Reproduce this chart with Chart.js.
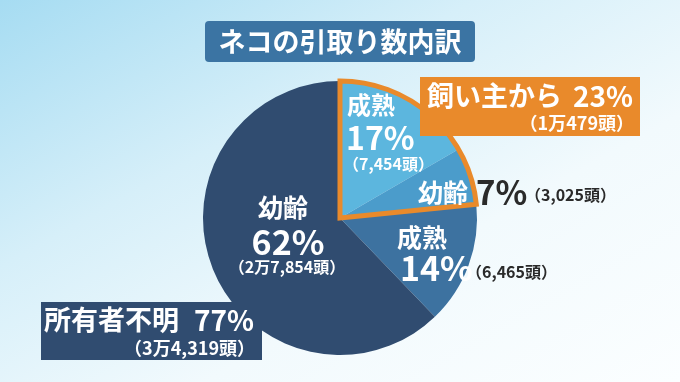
<!DOCTYPE html>
<html lang="ja">
<head>
    <meta charset="UTF-8">
    <title>ネコの引取り数内訳</title>
    <script src="https://cdn.jsdelivr.net/npm/chart.js@4.4.0/dist/chart.umd.min.js"></script>
    <style>
        html, body { margin: 0; padding: 0; }
        body {
            width: 680px; height: 382px; overflow: hidden;
            background: linear-gradient(to bottom right, #a6dcf2 0%, #d6eff9 35%, #f2fafd 65%, #fbfeff 100%);
        }
        canvas { display: block; }
    </style>
</head>
<body>
    <canvas id="myChart" width="680" height="382"></canvas>

    <script>
        // data
        const title = 'ネコの引取り数内訳';
        const categories = ['成熟', '幼齢', '成熟', '幼齢'];
        const counts = [7454, 3025, 6465, 27854];
        const percents = [17, 7, 14, 62];
        const countLabels = ['（7,454頭）', '（3,025頭）', '（6,465頭）', '（2万7,854頭）'];
        const groupNames = ['飼い主から', '所有者不明'];
        const groupPercents = [23, 77];
        const groupCountLabels = ['（1万479頭）', '（3万4,319頭）'];

        const sliceColors = ['#5cb6de', '#4b9ccb', '#3d72a0', '#304c70'];
        const orange = '#e98a2b';
        const navy = '#304c70';
        const FONT = '"Noto Sans CJK JP", "Noto Sans", sans-serif';

        function txt(ctx, s, x, y, size, color, align) {
            ctx.font = 'bold ' + size + 'px ' + FONT;
            ctx.fillStyle = color;
            ctx.textAlign = align || 'left';
            ctx.textBaseline = 'middle';
            ctx.fillText(s, x, y);
        }

        function roundRect(ctx, x, y, w, h, r, color) {
            ctx.beginPath();
            ctx.roundRect(x, y, w, h, r);
            ctx.fillStyle = color;
            ctx.fill();
        }

        // orange outline around the "飼い主から" slices, boxes and labels
        const labelPlugin = {
            id: 'labels',
            afterDatasetsDraw(chart) {
                const ctx = chart.ctx;
                const arcs = chart.getDatasetMeta(0).data;
                const cx = arcs[0].x, cy = arcs[0].y, r = arcs[0].outerRadius;

                ctx.save();
                ctx.beginPath();
                ctx.moveTo(cx, cy);
                ctx.arc(cx, cy, r, arcs[0].startAngle, arcs[1].endAngle);
                ctx.closePath();
                ctx.lineWidth = 5;
                ctx.lineJoin = 'miter';
                ctx.strokeStyle = orange;
                ctx.stroke();

                // title
                roundRect(ctx, 205, 21, 270, 41, 4, '#3b74a3');
                txt(ctx, title, 340, 42, 27, '#fff', 'center');

                // group boxes
                ctx.fillStyle = orange;
                ctx.fillRect(420, 77, 220, 59);
                txt(ctx, groupNames[0], 427, 96, 27, '#fff');
                txt(ctx, groupPercents[0] + '%', 633, 96, 28, '#fff', 'right');
                txt(ctx, groupCountLabels[0], 634, 123, 18, '#fff', 'right');

                ctx.fillStyle = navy;
                ctx.fillRect(41, 302, 221, 58);
                txt(ctx, groupNames[1], 44, 320, 27, '#fff');
                txt(ctx, groupPercents[1] + '%', 254, 320, 28, '#fff', 'right');
                txt(ctx, groupCountLabels[1], 255, 348, 18, '#fff', 'right');

                // slice labels
                txt(ctx, categories[0], cx + 7, cy - 113, 24, '#fff');
                txt(ctx, percents[0] + '%', cx + 6, cy - 80, 32, '#fff');
                txt(ctx, countLabels[0], cx + 3, cy - 54, 16, '#fff');

                txt(ctx, categories[1], cx + 78, cy - 26, 25, '#fff');
                txt(ctx, percents[1] + '%', cx + 136, cy - 26, 33, '#2a2a2a');
                txt(ctx, countLabels[1], cx + 185, cy - 23, 16, '#2a2a2a');

                txt(ctx, categories[2], cx + 57, cy + 19, 25, '#fff');
                txt(ctx, percents[2] + '%', cx + 60, cy + 50, 34, '#fff');
                txt(ctx, countLabels[2], cx + 126, cy + 54, 16, '#2a2a2a');

                txt(ctx, categories[3], cx - 57, cy - 11, 25, '#fff', 'center');
                txt(ctx, percents[3] + '%', cx - 52, cy + 24, 34, '#fff', 'center');
                txt(ctx, countLabels[3], cx - 53, cy + 49, 16, '#fff', 'center');
                ctx.restore();
            }
        };

        const ctx = document.getElementById('myChart').getContext('2d');
        new Chart(ctx, {
            type: 'pie',
            data: {
                labels: categories,
                datasets: [{
                    data: counts,
                    backgroundColor: sliceColors,
                    borderWidth: 0
                }]
            },
            options: {
                responsive: false,
                animation: false,
                events: [],
                layout: {
                    padding: { top: 81, bottom: 27, left: 0, right: 0 }
                },
                plugins: {
                    legend: { display: false },
                    tooltip: { enabled: false }
                }
            },
            plugins: [labelPlugin]
        });
    </script>
</body>
</html>
